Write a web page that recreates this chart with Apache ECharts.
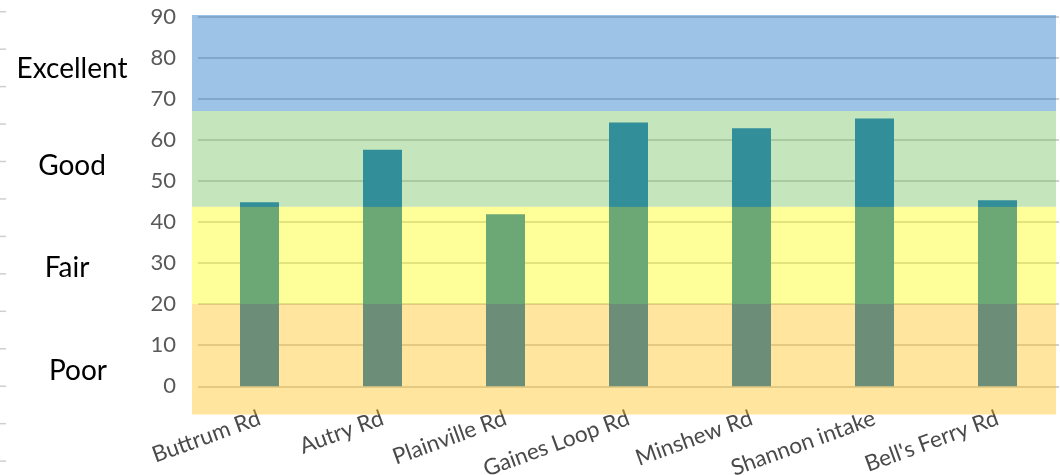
<!DOCTYPE html>
<html>
<head>
<meta charset="utf-8">
<script src="https://cdn.jsdelivr.net/npm/echarts@6/dist/echarts.min.js"></script>
<style>
  html, body { margin: 0; padding: 0; background: #ffffff; }
  #chart { width: 1060px; height: 475px; }
</style>
</head>
<body>
<div id="chart"></div>
<script>
// Sampling sites and their stream health scores
const sites = ['Buttrum Rd', 'Autry Rd', 'Plainville Rd', 'Gaines Loop Rd', 'Minshew Rd', 'Shannon intake', "Bell's Ferry Rd"];
const scores = [44.8, 57.6, 41.9, 64.2, 62.8, 65.2, 45.3];

// Score axis
const scoreMin = 0;
const scoreMax = 90;
const scoreStep = 10;

// Rating bands (lower edge .. upper edge), from bottom to top
const bandNames = ['Poor', 'Fair', 'Good', 'Excellent'];
const bandEdges = [-6.9, 20, 43.7, 67, 90.4];

const FONT = 'Lato, "Open Sans", sans-serif';

// Translucent band fills, laid over the bars
const bandColors = [
  'rgba(255, 190, 10, 0.4)',
  'rgba(255, 255, 0, 0.4)',
  'rgba(110, 190, 90, 0.4)',
  'rgba(10, 105, 192, 0.4)'
];

const bandMarkData = bandNames.map((name, i) => [
  { name: name, yAxis: bandEdges[i], itemStyle: { color: bandColors[i] } },
  { yAxis: bandEdges[i + 1] }
]);

// Rating names written in the left margin
const bandLabelPos = {
  'Excellent': [72, 69],
  'Good': [72, 166],
  'Fair': [67, 268],
  'Poor': [78, 371]
};

// Faint ruler marks along the left edge
const rulerMarks = [];
for (let k = 0; k < 13; k++) {
  rulerMarks.push({
    type: 'line',
    shape: { x1: 0, y1: 11.7 + 37.45 * k, x2: 6, y2: 11.7 + 37.45 * k },
    style: { stroke: '#cfcfcf', lineWidth: 1.5 },
    silent: true
  });
}

const bandTexts = bandNames.map(name => ({
  type: 'text',
  x: bandLabelPos[name][0],
  y: bandLabelPos[name][1],
  style: {
    text: name,
    fill: '#000000',
    font: '28px ' + FONT,
    textAlign: 'center',
    textVerticalAlign: 'middle'
  },
  silent: true
}));

const chart = echarts.init(document.getElementById('chart'), null, { renderer: 'canvas' });

chart.setOption({
  backgroundColor: '#ffffff',
  animation: false,
  grid: [
    { left: 198, right: 1, top: 16.5, bottom: 88.7, containLabel: false, outerBoundsMode: 'none' },
    { left: 192, right: 4, top: 15, bottom: 60.5, containLabel: false, outerBoundsMode: 'none' }
  ],
  xAxis: [
    {
      type: 'category',
      gridIndex: 0,
      data: sites,
      axisLine: { show: false },
      axisTick: { show: false },
      axisLabel: {
        rotate: 20,
        margin: 31,
        interval: 0,
        color: '#4a4a4a',
        fontFamily: FONT,
        fontSize: 22.5
      },
      splitLine: { show: false }
    },
    {
      type: 'value',
      gridIndex: 1,
      min: 0,
      max: 1,
      show: false
    }
  ],
  yAxis: [
    {
      type: 'value',
      gridIndex: 0,
      min: scoreMin,
      max: scoreMax,
      interval: scoreStep,
      axisLine: { show: false },
      axisTick: { show: false },
      axisLabel: {
        margin: 22,
        color: '#595959',
        fontFamily: FONT,
        fontSize: 22
      },
      splitLine: { lineStyle: { color: '#d0d0d0', width: 2 } }
    },
    {
      type: 'value',
      gridIndex: 1,
      min: bandEdges[0],
      max: bandEdges[bandEdges.length - 1],
      show: false
    }
  ],
  series: [
    {
      name: 'Score',
      type: 'bar',
      xAxisIndex: 0,
      yAxisIndex: 0,
      data: scores,
      barWidth: 39,
      itemStyle: { color: '#0a6ec4' },
      z: 2
    },
    {
      name: 'Rating',
      type: 'line',
      xAxisIndex: 1,
      yAxisIndex: 1,
      data: [],
      silent: true,
      z: 5,
      markArea: {
        silent: true,
        z: 6,
        label: { show: false },
        data: bandMarkData
      }
    }
  ],
  graphic: rulerMarks.concat(bandTexts)
});
</script>
</body>
</html>
